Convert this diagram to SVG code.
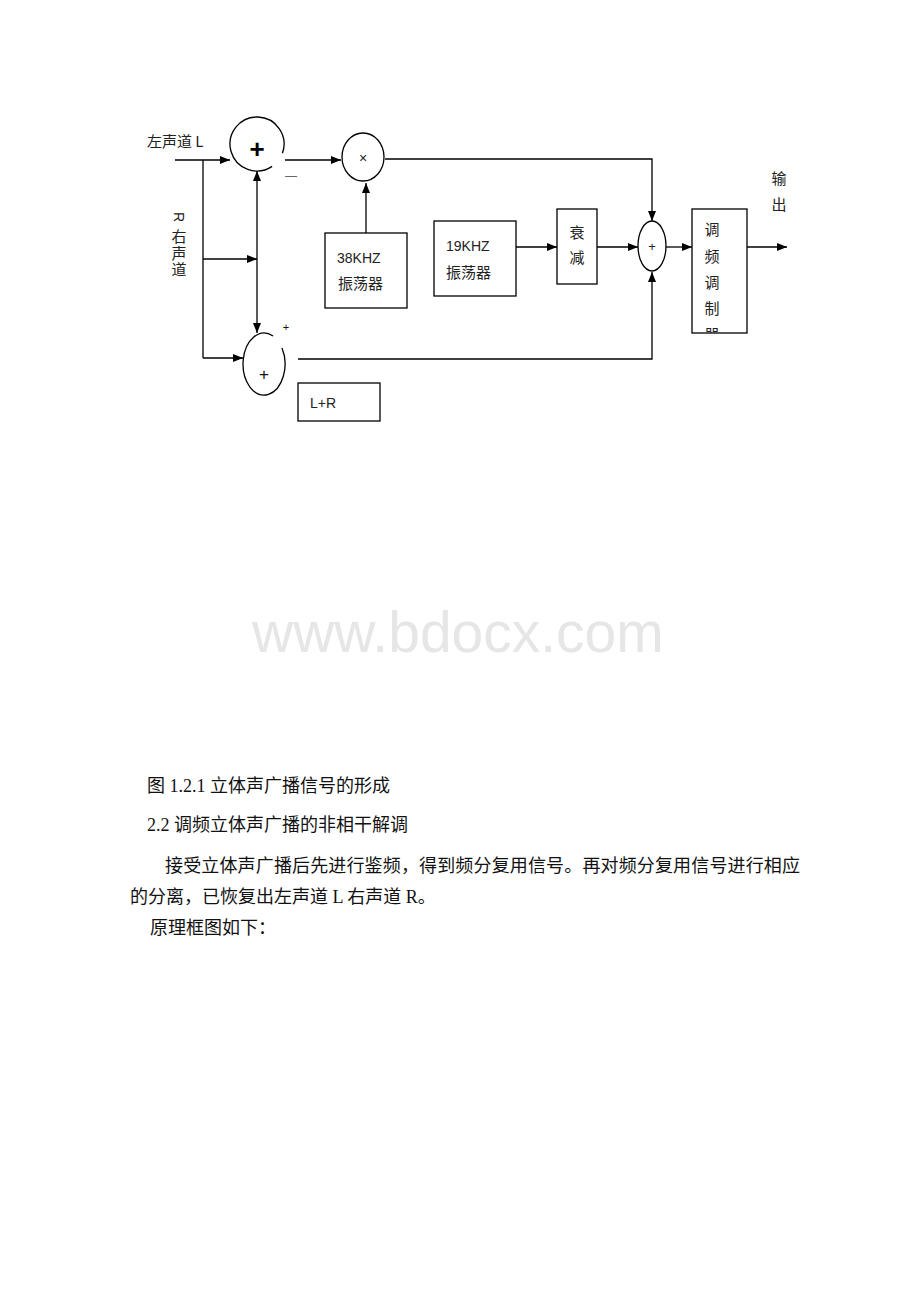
<svg xmlns="http://www.w3.org/2000/svg" width="920" height="1302" viewBox="0 0 920 1302">
<style>
.ln{stroke:#000;stroke-width:1.3;fill:none}
.arr{stroke:#000;stroke-width:1.3;fill:none;marker-end:url(#ah)}
.box{stroke:#000;stroke-width:1.3;fill:#fff}
.cj{font-family:"Noto Sans CJK SC","Liberation Serif",serif;font-size:15px;fill:#222}
.lat{font-family:"Liberation Sans","Noto Sans",sans-serif;font-size:14px;fill:#222}
.body{font-family:"Liberation Serif","Noto Sans CJK SC",serif;font-size:18px;fill:#111}
</style>
<defs>
<marker id="ah" markerWidth="10" markerHeight="8" refX="10" refY="4" orient="auto" markerUnits="userSpaceOnUse">
<path d="M0,0 L10,4 L0,8 Z" fill="#000"/>
</marker>
</defs>
<rect width="920" height="1302" fill="#fff"/>
<text x="252" y="652" font-family="Liberation Sans,Arial,sans-serif" font-size="57" fill="#e6e6e6">www.bdocx.com</text>

<g id="connectors">
<path class="arr" d="M175,160 H230"/>
<path class="ln" d="M203,160 V358"/>
<path class="arr" d="M203,358 H243"/>
<path class="arr" d="M203,259 H257"/>
<path class="arr" d="M257,250 V171"/>
<path class="arr" d="M257,250 V333"/>
<path class="arr" d="M285,160 H341"/>
<path class="arr" d="M366,233 V183"/>
<path class="arr" d="M385,159 H652 V221"/>
<path class="arr" d="M298,359 H652 V272"/>
<path class="arr" d="M516,247 H557"/>
<path class="arr" d="M597,247 H638"/>
<path class="arr" d="M666,247 H692"/>
<path class="arr" d="M747,247 H787"/>
</g>

<g id="left-label">
<text class="cj" x="147" y="147">左声道 L</text>
</g>
<g id="right-label">
<text class="lat" x="174" y="220" transform="rotate(90 178 216)">R</text>
<text class="cj" x="179" y="229" writing-mode="tb" letter-spacing="1.5">右声道</text>
</g>

<g id="sum-top">
<path class="ln" d="M282.4,153.2 A27,27 0 1 0 272.1,166.4"/>
<text x="257" y="158" text-anchor="middle" font-family="Liberation Sans,sans-serif" font-size="26" font-weight="bold" fill="#000">+</text>
<text x="291" y="181" text-anchor="middle" font-family="Noto Sans CJK SC,sans-serif" font-size="13" fill="#666">一</text>
</g>

<g id="multiplier">
<ellipse class="ln" cx="363" cy="157" rx="21" ry="24"/>
<text x="363" y="163" text-anchor="middle" font-family="Liberation Sans,sans-serif" font-size="14" fill="#222">×</text>
</g>

<g id="sum-bottom">
<path class="ln" d="M282,348 A21,31 0 1 1 273,336"/>
<text x="264" y="380" text-anchor="middle" font-family="Liberation Sans,sans-serif" font-size="17" fill="#111">+</text>
<text x="286" y="331" text-anchor="middle" font-family="Liberation Sans,sans-serif" font-size="11" fill="#111">+</text>
</g>

<g id="lr-box">
<rect class="box" x="298" y="383" width="82" height="38"/>
<text class="lat" x="310" y="408">L+R</text>
</g>

<g id="osc38">
<rect class="box" x="325" y="233" width="82" height="75"/>
<text class="lat" x="337" y="263">38KHZ</text>
<text class="cj" x="338" y="289" font-size="16">振荡器</text>
</g>

<g id="osc19">
<rect class="box" x="434" y="221" width="82" height="75"/>
<text class="lat" x="446" y="251">19KHZ</text>
<text class="cj" x="446" y="278" font-size="16">振荡器</text>
</g>

<g id="atten">
<rect class="box" x="557" y="209" width="40" height="75"/>
<text class="cj" x="577" y="238" text-anchor="middle">衰</text>
<text class="cj" x="577" y="263" text-anchor="middle">减</text>
</g>

<g id="sum-right">
<ellipse class="ln" cx="652" cy="246" rx="14" ry="25"/>
<text x="652" y="251" text-anchor="middle" font-family="Liberation Sans,sans-serif" font-size="13" fill="#222">+</text>
</g>

<g id="fm-mod">
<clipPath id="modclip"><rect x="692" y="209" width="55" height="124"/></clipPath>
<rect class="box" x="692" y="209" width="55" height="124"/>
<g clip-path="url(#modclip)">
<text class="cj" x="712" y="235" text-anchor="middle">调</text>
<text class="cj" x="712" y="262" text-anchor="middle">频</text>
<text class="cj" x="712" y="288" text-anchor="middle">调</text>
<text class="cj" x="712" y="314" text-anchor="middle">制</text>
<text class="cj" x="712" y="340" text-anchor="middle">器</text>
</g>
</g>

<g id="output-label">
<text class="cj" x="779" y="184" text-anchor="middle">输</text>
<text class="cj" x="779" y="210" text-anchor="middle">出</text>
</g>

<g id="body-text">
<text class="body" x="147" y="792">图 1.2.1 立体声广播信号的形成</text>
<text class="body" x="147" y="831">2.2 调频立体声广播的非相干解调</text>
<text class="body" x="165" y="872" textLength="635" lengthAdjust="spacing">接受立体声广播后先进行鉴频，得到频分复用信号。再对频分复用信号进行相应</text>
<text class="body" x="130" y="903">的分离，已恢复出左声道 L 右声道 R。</text>
<text class="body" x="150" y="934">原理框图如下：</text>
</g>
</svg>
